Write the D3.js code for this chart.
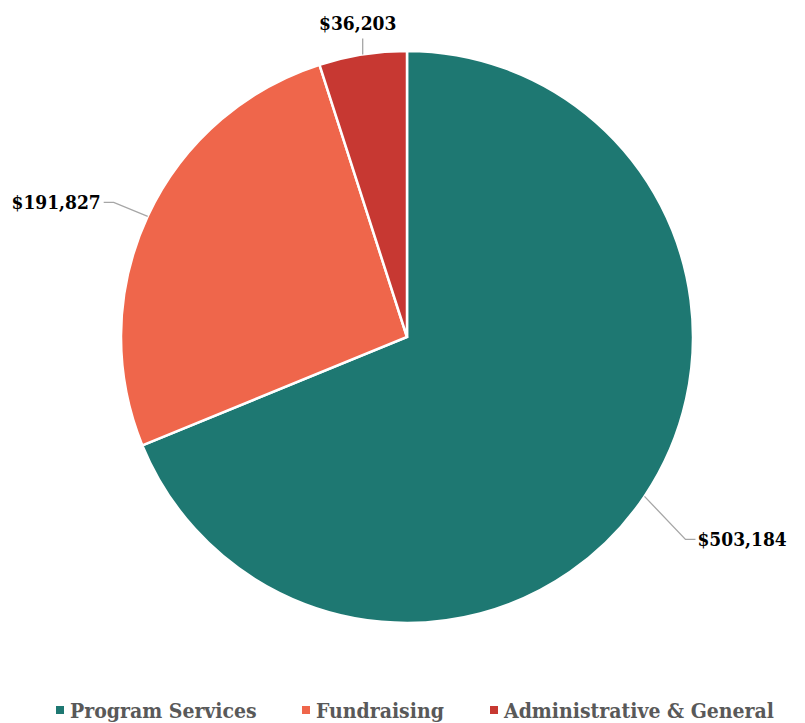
<!DOCTYPE html>
<html>
<head>
<meta charset="utf-8">
<script src="https://cdn.jsdelivr.net/npm/d3@7"></script>
<style>
  body { margin: 0; background: #fff; }
  text { font-family: "Roboto Slab", "DejaVu Serif Condensed", "DejaVu Serif", serif; font-weight: bold; }
</style>
</head>
<body>
<svg id="chart" width="805" height="723"></svg>
<script>
// expense categories
var categories = ["Program Services", "Fundraising", "Administrative & General"];
var amounts = [503184, 191827, 36203];
var colors = ["#1e7872", "#ef664b", "#c73832"];

var w = 805, h = 723;
var cx = 407, cy = 337, r = 286;

var svg = d3.select("#chart");
var g = svg.append("g").attr("transform", "translate(" + cx + "," + cy + ")");

var pie = d3.pie().sort(null).value(function(d){ return d; });
var arcs = pie(amounts);
var arc = d3.arc().innerRadius(0).outerRadius(r);

g.selectAll("path.slice")
  .data(arcs)
  .enter().append("path")
  .attr("class", "slice")
  .attr("d", arc)
  .attr("fill", function(d, i){ return colors[i]; })
  .attr("stroke", "#fff")
  .attr("stroke-width", 2.5)
  .attr("stroke-linejoin", "miter");

// leader lines: start on the rim, elbow, then short horizontal run
var elbow = [[41, 43], [-34, -14], [0, -16]];
var run = [10, -10, 0];
var fmt = d3.format("$,");

arcs.forEach(function(d, i){
  var a = (d.startAngle + d.endAngle) / 2;
  var x0 = r * Math.sin(a), y0 = -r * Math.cos(a);
  var x1 = x0 + elbow[i][0], y1 = y0 + elbow[i][1];
  var x2 = x1 + run[i], y2 = y1;
  g.append("polyline")
    .attr("points", [[x0, y0], [x1, y1], [x2, y2]].map(function(p){ return p.join(","); }).join(" "))
    .attr("fill", "none")
    .attr("stroke", "#a6a6a6")
    .attr("stroke-width", 1.3);

  var lbl = g.append("text")
    .attr("font-size", "19px")
    .attr("fill", "#000")
    .text(fmt(amounts[i]));
  if (run[i] > 0) {
    lbl.attr("x", x2 + 2).attr("y", y2 + 7).attr("text-anchor", "start");
  } else if (run[i] < 0) {
    lbl.attr("x", x2 - 3).attr("y", y2 + 7).attr("text-anchor", "end");
  } else {
    lbl.attr("x", x2 - 5).attr("y", y2 - 8).attr("text-anchor", "middle");
  }
});

// legend
var legendX = [56, 302, 490];
var legend = svg.append("g").attr("transform", "translate(0,718)");
categories.forEach(function(c, i){
  legend.append("rect")
    .attr("x", legendX[i]).attr("y", -12)
    .attr("width", 8).attr("height", 8)
    .attr("fill", colors[i]);
  legend.append("text")
    .attr("x", legendX[i] + 14).attr("y", 0)
    .attr("font-size", "21px")
    .attr("fill", "#595959")
    .text(c);
});
</script>
</body>
</html>
